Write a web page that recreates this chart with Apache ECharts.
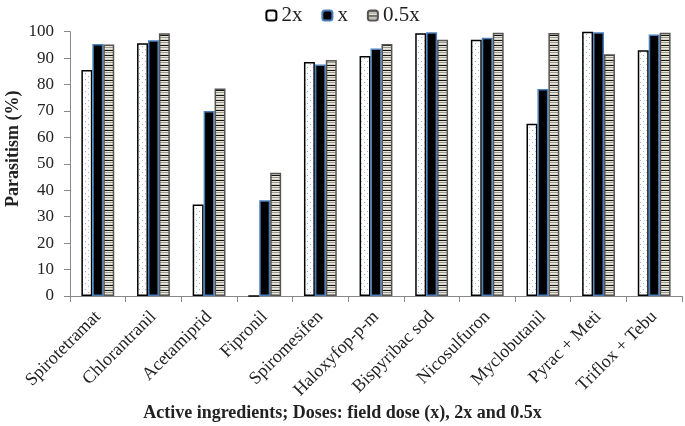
<!DOCTYPE html>
<html><head><meta charset="utf-8">
<script src="https://cdn.jsdelivr.net/npm/echarts@6/dist/echarts.min.js"></script>
<style>html,body{margin:0;padding:0;background:#fff}#c{width:685px;height:426px}</style>
</head><body><div id="c"></div>
<script>
const categories = ["Spirotetramat","Chlorantranil","Acetamiprid","Fipronil","Spiromesifen","Haloxyfop-p-m","Bispyribac sod","Nicosulfuron","Myclobutanil","Pyrac + Meti","Triflox + Tebu"];
const seriesNames = ["2x","x","0.5x"];
const dose2x  = [85.5, 95.6, 34.6, 0,    88.5, 90.8, 99.4, 97.0, 65.2, 100, 93.0];
const dose1x  = [95.3, 96.8, 70.0, 36.2, 87.6, 93.6, 99.8, 97.7, 78.3, 99.8, 98.9];
const dose05x = [95.2, 99.4, 78.5, 46.6, 89.3, 95.3, 97.0, 99.6, 99.5, 91.5, 99.6];
const yTicks = {min:0, max:100, interval:10};
const xTitle = 'Active ingredients; Doses: field dose (x), 2x and 0.5x';
const yTitle = 'Parasitism (%)';

function dotPattern(){
  const c=document.createElement('canvas'); c.width=6; c.height=6;
  const g=c.getContext('2d'); g.fillStyle='#fff'; g.fillRect(0,0,6,6);
  g.fillStyle='#9db3cf'; g.fillRect(1,1,1,1); g.fillRect(4,4,1,1);
  return {image:c, repeat:'repeat'};
}
function stripePattern(){
  const c=document.createElement('canvas'); c.width=4; c.height=5;
  const g=c.getContext('2d');
  const rows=['#111','#e9e7da','#9a988e','#e9e7da','#d4d2c4'];
  rows.forEach((col,i)=>{g.fillStyle=col; g.fillRect(0,i,4,1);});
  return {image:c, repeat:'repeat'};
}
const font='"Liberation Serif","Times New Roman",serif';
const chart=echarts.init(document.getElementById('c'));
const styles=[
  {color:dotPattern(), borderColor:'#000', borderWidth:1.5},
  {color:'#000', borderColor:'#4a7ebb', borderWidth:1.5},
  {color:stripePattern(), borderColor:'#555', borderWidth:1.5}
];
const data=[dose2x,dose1x,dose05x];
chart.setOption({
  animation:false,
  backgroundColor:'#fff',
  title:{text:xTitle,left:'center',top:399,
    textStyle:{fontFamily:font,fontSize:18,fontWeight:'bold',color:'#222'}},
  legend:{top:0,left:'center',itemWidth:10,itemHeight:10,itemGap:19,
    textStyle:{fontFamily:font,fontSize:21,color:'#222'},data:seriesNames},
  grid:{left:70,right:3,top:31.7,bottom:130,outerBoundsMode:'none',containLabel:false},
  xAxis:{type:'category',data:categories,
    axisLine:{lineStyle:{color:'#888',width:1}},
    axisTick:{show:true,alignWithLabel:false,length:6,lineStyle:{color:'#888'}},
    axisLabel:{rotate:45,interval:0,fontFamily:font,fontSize:18,color:'#222',margin:18}},
  yAxis:{type:'value',min:yTicks.min,max:yTicks.max,interval:yTicks.interval,
    name:yTitle,nameLocation:'middle',nameGap:48,nameRotate:90,nameMoveOverlap:false,
    nameTextStyle:{fontFamily:font,fontSize:18,fontWeight:'bold',color:'#222',padding:[0,0,0,30]},
    splitLine:{show:false},
    axisLine:{show:true,lineStyle:{color:'#888',width:1}},
    axisTick:{show:true,length:6,lineStyle:{color:'#888'}},
    axisLabel:{fontFamily:font,fontSize:17,color:'#222',margin:16}},
  series:seriesNames.map((n,i)=>({name:n,type:'bar',data:data[i],barGap:'0%',barCategoryGap:'41%',itemStyle:styles[i]}))
});
</script></body></html>
